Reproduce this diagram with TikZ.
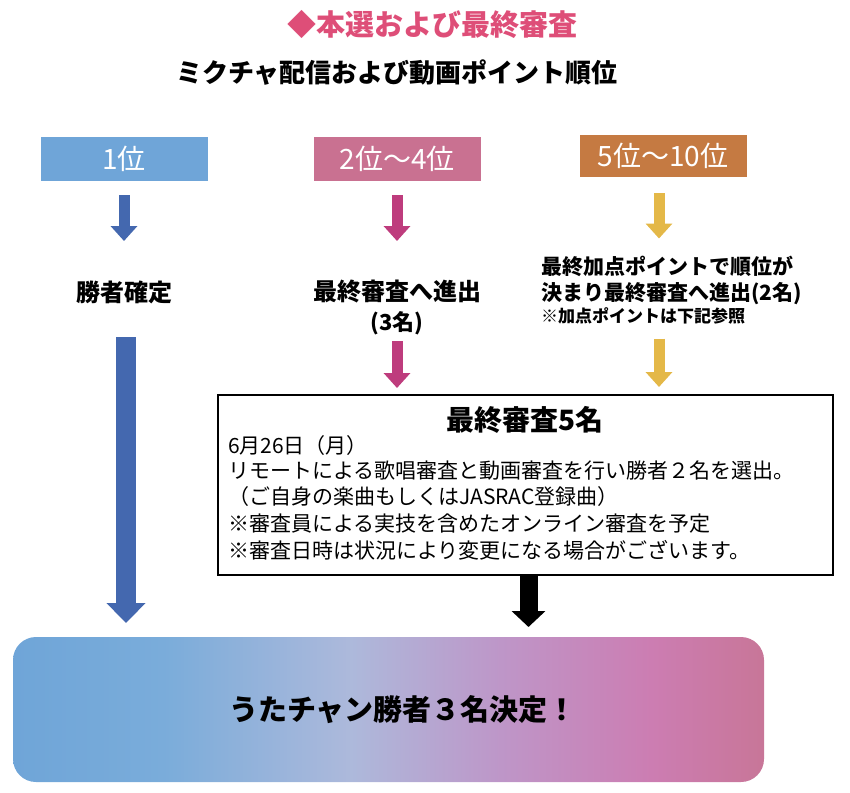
\documentclass[tikz,border=0pt]{standalone}
\usepackage{fontspec}
\setmainfont{Noto Sans CJK JP}
\usetikzlibrary{arrows.meta}

\definecolor{titlepink}{RGB}{222,78,120}
\definecolor{rankblue}{RGB}{111,165,216}
\definecolor{rankpink}{RGB}{201,113,145}
\definecolor{rankorange}{RGB}{197,122,66}
\definecolor{arrblue}{RGB}{68,104,175}
\definecolor{arrpink}{RGB}{190,60,125}
\definecolor{arryellow}{RGB}{228,184,72}
\pgfdeclarehorizontalshading{winshade}{100bp}{rgb(0bp)=(0.435,0.647,0.847); rgb(25bp)=(0.435,0.647,0.847); rgb(35bp)=(0.478,0.675,0.855); rgb(47.5bp)=(0.678,0.725,0.859); rgb(57.5bp)=(0.745,0.588,0.784); rgb(67.5bp)=(0.800,0.490,0.698); rgb(75bp)=(0.784,0.463,0.596); rgb(100bp)=(0.784,0.463,0.596)}

\begin{document}
\begin{tikzpicture}[x=1pt,y=-1pt,inner sep=0pt,outer sep=0pt,
rankbox/.style={rectangle,minimum width=167pt,minimum height=44pt,text=white,font=\fontsize{28pt}{30pt}\selectfont},
txt/.style={font=\bfseries\fontsize{#1pt}{#1pt}\selectfont,text height={0.86*#1pt},text depth={0.14*#1pt}},
plain/.style={font=\fontsize{#1pt}{#1pt}\selectfont,text height={0.86*#1pt},text depth={0.14*#1pt}},
smallarr/.style={line width=11pt,-{Triangle[width=26pt,length=15pt]}},
bigarr/.style={line width=20pt,-{Triangle[width=38pt,length=20pt]}},
blackarr/.style={line width=18pt,-{Triangle[width=33pt,length=16pt]}}]

\useasboundingbox (0,0) rectangle (850,792);

% headings
\draw (432,25) node[txt=29,text=titlepink] (title) {◆本選および最終審査};
\draw (397,73) node[txt=26] (subtitle) {ミクチャ配信および動画ポイント順位};

% rank boxes
\draw (124,159) node[rankbox,fill=rankblue] (r1) {1位};
\draw (397,159) node[rankbox,fill=rankpink] (r2) {2位〜4位};
\draw (663,156) node[rankbox,fill=rankorange,minimum height=42pt] (r3) {5位〜10位};

% results
\draw (124,293) node[txt=24] (win1) {勝者確定};
\draw (397,292) node[txt=24] (adv2a) {最終審査へ進出};
\draw (397,323) node[txt=22] (adv2b) {(3名)};
\draw (541,267) node[txt=21,anchor=west] (adv3a) {最終加点ポイントで順位が};
\draw (541,293) node[txt=21,anchor=west] (adv3b) {決まり最終審査へ進出(2名)};
\draw (541,316) node[txt=17,anchor=west] (adv3c) {※加点ポイントは下記参照};

% final exam box
\draw (525.5,485) node[draw,line width=1.2pt,minimum width=615pt,minimum height=180pt] (exam) {};
\draw (525,420) node[txt=28] (examtitle) {最終審査5名};
\draw (228,446) node[plain=21,anchor=west] (line1) {6月26日（月）};
\draw (228,471) node[plain=21,anchor=west] (line2) {リモートによる歌唱審査と動画審査を行い勝者２名を選出。};
\draw (228,497) node[plain=21,anchor=west] (line3) {（ご自身の楽曲もしくはJASRAC登録曲）};
\draw (228,524) node[plain=21,anchor=west] (line4) {※審査員による実技を含めたオンライン審査を予定};
\draw (228,551) node[plain=21,anchor=west] (line5) {※審査日時は状況により変更になる場合がございます。};

% winners
\draw (388.5,709.5) node[shading=winshade,shading angle=0,rounded corners=23pt,minimum width=751pt,minimum height=145pt] (final) {};
\draw (403,710) node[txt=29] (finaltext) {うたチャン勝者３名決定！};

% arrows
\draw[smallarr,arrblue,shorten <=14pt,shorten >=40pt] (r1.south) -- (win1.north);
\draw[bigarr,arrblue,shorten <=32pt,shorten >=14pt] ([xshift=2pt]win1.south) -- ([xshift=2pt]win1.south |- final.north);
\draw[smallarr,arrpink,shorten <=14pt,shorten >=39pt] (r2.south) -- (adv2a.north);
\draw[smallarr,arrpink,shorten <=7pt,shorten >=7pt] (adv2b.south) -- (adv2b.south |- exam.north);
\draw[smallarr,arryellow,shorten <=16pt,shorten >=18pt] ([xshift=-4pt]r3.south) -- ([xshift=-4pt]r3.south |- adv3a.north);
\draw[smallarr,arryellow,shorten <=14pt,shorten >=8pt] ([xshift=-4pt]r3.south |- adv3c.south) -- ([xshift=-4pt]r3.south |- exam.north);
\draw[blackarr,shorten <=1pt,shorten >=10pt] ([xshift=3pt]exam.south) -- ([xshift=3pt]exam.south |- final.north);
\end{tikzpicture}
\end{document}
